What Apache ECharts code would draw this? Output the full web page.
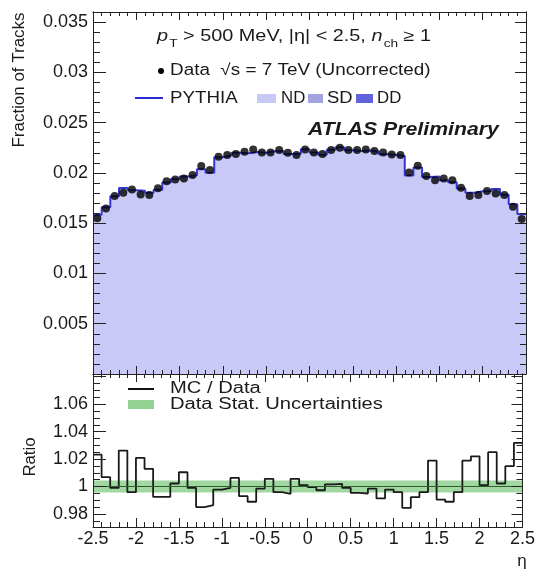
<!DOCTYPE html>
<html><head><meta charset="utf-8">
<script src="https://cdn.jsdelivr.net/npm/echarts@6/dist/echarts.min.js"></script>
<style>html,body{margin:0;padding:0;background:#fff}#c{width:538px;height:572px}</style>
</head><body><div id="c"></div>
<script>
// ---- binning ----
const etaMin = -2.5, etaMax = 2.5, nBins = 50;
// ---- values ----
const dataValues = [0.01548, 0.01647, 0.01769, 0.01802, 0.01836, 0.01786, 0.01779, 0.01846, 0.01918, 0.01935,
  0.01945, 0.01978, 0.02068, 0.02028, 0.02160, 0.02177, 0.02187, 0.02210, 0.02233, 0.02204,
  0.02204, 0.02227, 0.02200, 0.02177, 0.02233, 0.02204, 0.02187, 0.02227, 0.02250, 0.02227,
  0.02227, 0.02233, 0.02217, 0.02204, 0.02184, 0.02177, 0.02005, 0.02070, 0.01968, 0.01928,
  0.01945, 0.01928, 0.01852, 0.01769, 0.01779, 0.01819, 0.01796, 0.01779, 0.01663, 0.01541];
const mcValues = [0.015841, 0.016582, 0.017672, 0.018492, 0.018285, 0.018233, 0.018019, 0.018322, 0.019036, 0.019393,
  0.019652, 0.019760, 0.020370, 0.020004, 0.021552, 0.021748, 0.022008, 0.021945, 0.022082, 0.022007,
  0.022163, 0.022179, 0.021883, 0.021892, 0.022352, 0.022029, 0.021811, 0.022303, 0.022545, 0.022248,
  0.022168, 0.022216, 0.022137, 0.021848, 0.021792, 0.021681, 0.019739, 0.020539, 0.019599, 0.019644,
  0.019265, 0.019066, 0.018444, 0.018024, 0.018181, 0.018208, 0.018409, 0.017829, 0.016876, 0.015900];
const ratioValues = [1.0233, 1.0068, 0.9990, 1.0262, 0.9959, 1.0209, 1.0129, 0.9925, 0.9925, 1.0022,
  1.0104, 0.9990, 0.9850, 0.9864, 0.9978, 0.9990, 1.0063, 0.9930, 0.9889, 0.9985,
  1.0056, 0.9959, 0.9947, 1.0056, 1.0010, 0.9995, 0.9973, 1.0015, 1.0020, 0.9990,
  0.9954, 0.9949, 0.9985, 0.9913, 0.9978, 0.9959, 0.9845, 0.9922, 0.9959, 1.0189,
  0.9905, 0.9889, 0.9959, 1.0189, 1.0220, 1.0010, 1.0250, 1.0022, 1.0148, 1.0318];
const statBandLow = 0.9956, statBandHigh = 1.0044;
// ---- ticks ----
const topMajorTicks = [0, 0.005, 0.01, 0.015, 0.02, 0.025, 0.03, 0.035];
const topTickLabels = ['', '0.005', '0.01', '0.015', '0.02', '0.025', '0.03', '0.035'];
const topMinorTicks = [0.001, 0.002, 0.003, 0.004, 0.006, 0.007, 0.008, 0.009, 0.011, 0.012, 0.013, 0.014,
  0.016, 0.017, 0.018, 0.019, 0.021, 0.022, 0.023, 0.024, 0.026, 0.027, 0.028, 0.029,
  0.031, 0.032, 0.033, 0.034, 0.036];
const ratioMajorTicks = [0.98, 1.0, 1.02, 1.04, 1.06, 1.08];
const ratioTickLabels = ['0.98', '1', '1.02', '1.04', '1.06', ''];
const ratioMinorTicks = [0.975, 0.985, 0.99, 0.995, 1.005, 1.01, 1.015, 1.025, 1.03, 1.035,
  1.045, 1.05, 1.055, 1.065, 1.07, 1.075];
const xTickLabels = ['-2.5', '-2', '-1.5', '-1', '-0.5', '0', '0.5', '1', '1.5', '2', '2.5'];

const FONT = '"Liberation Sans", Arial, Helvetica, sans-serif';
const edges = [];
for (let i = 0; i <= nBins; i++) edges.push(+(etaMin + i * (etaMax - etaMin) / nBins).toFixed(3));
const mcStep = mcValues.map((v, i) => [edges[i], v]).concat([[edges[nBins], mcValues[nBins - 1]]]);
const ratioStep = ratioValues.map((v, i) => [edges[i], v]).concat([[edges[nBins], ratioValues[nBins - 1]]]);
const dataPts = dataValues.map((v, i) => [+((edges[i] + edges[i + 1]) / 2).toFixed(3), v]);

const axCol = '#222';
const LBL = 18;
function xAx(grid, pos, showLabel, len) {
  return {
    type: 'value', gridIndex: grid, position: pos, min: etaMin, max: etaMax, interval: 0.5, z: 10,
    axisLine: { show: true, onZero: false, lineStyle: { color: axCol, width: 1 } },
    axisTick: { show: true, inside: true, length: len, lineStyle: { color: axCol } },
    minorTick: { show: true, splitNumber: 5, length: Math.round(len / 2), lineStyle: { color: axCol } },
    splitLine: { show: false }, minorSplitLine: { show: false },
    axisLabel: { show: showLabel, margin: 3, fontSize: LBL, color: '#1a1a1a', fontFamily: FONT,
      formatter: v => xTickLabels[Math.round((v - etaMin) / 0.5)] },
  };
}
function yAx(grid, pos, min, max, ticks, labels, len, showLabel) {
  return {
    type: 'value', gridIndex: grid, position: pos, min: min, max: max, z: 10,
    axisLine: { show: true, onZero: false, lineStyle: { color: axCol, width: 1 } },
    axisTick: { show: true, inside: true, length: len, customValues: ticks, lineStyle: { color: axCol } },
    splitLine: { show: false },
    axisLabel: { show: showLabel, margin: 5, fontSize: LBL, color: '#1a1a1a', fontFamily: FONT,
      customValues: showLabel ? ticks : undefined,
      formatter: v => { const i = ticks.findIndex(t => Math.abs(t - v) < 1e-6); return i >= 0 ? labels[i] : ''; } },
  };
}

const gridTop = { left: 93, top: 12, width: 433, height: 362 };
const gridBot = { left: 93, top: 374, width: 433, height: 153 };

const txt = (t, x, y, size, sx, extra) => Object.assign({ type: 'text', x: x, y: y, silent: true, scaleX: sx,
  style: Object.assign({ text: t, font: size + 'px ' + FONT, fill: '#1a1a1a', textVerticalAlign: 'middle' }, (extra && extra.style) || {}) },
  (extra && extra.el) || {});

const option = {
  animation: false,
  backgroundColor: '#fff',
  grid: [gridTop, gridBot],
  xAxis: [xAx(0, 'bottom', false, 8), xAx(0, 'top', false, 8), xAx(1, 'bottom', true, 9), xAx(1, 'top', false, 8)],
  yAxis: [
    yAx(0, 'left', 0, 0.036, topMajorTicks, topTickLabels, 13, true),
    yAx(0, 'left', 0, 0.036, topMinorTicks, [], 7, false),
    yAx(0, 'right', 0, 0.036, topMajorTicks, topTickLabels, 11, false),
    yAx(0, 'right', 0, 0.036, topMinorTicks, [], 6, false),
    yAx(1, 'left', 0.9705, 1.082, ratioMajorTicks, ratioTickLabels, 13, true),
    yAx(1, 'left', 0.9705, 1.082, ratioMinorTicks, [], 7, false),
    yAx(1, 'right', 0.9705, 1.082, ratioMajorTicks, ratioTickLabels, 11, false),
    yAx(1, 'right', 0.9705, 1.082, ratioMinorTicks, [], 6, false),
  ],
  series: [
    { name: 'PYTHIA', type: 'line', xAxisIndex: 0, yAxisIndex: 0, step: 'end', data: mcStep, showSymbol: false, symbol: 'none',
      lineStyle: { color: '#3636d6', width: 2 }, areaStyle: { color: '#c9c9f8', opacity: 1 }, z: 2 },
    { name: 'Data', type: 'scatter', xAxisIndex: 0, yAxisIndex: 0, data: dataPts, symbol: 'circle', symbolSize: 8,
      itemStyle: { color: '#000' }, z: 5 },
    { name: 'MC / Data', type: 'line', xAxisIndex: 2, yAxisIndex: 4, step: 'end', data: ratioStep, showSymbol: false, symbol: 'none',
      lineStyle: { color: '#1a1a1a', width: 1.8 }, z: 4,
      markArea: { silent: true, itemStyle: { color: 'rgba(110,195,110,0.65)' }, data: [[{ yAxis: statBandLow }, { yAxis: statBandHigh }]] },
      markLine: { silent: true, symbol: ['none', 'none'], label: { show: false }, lineStyle: { color: '#2d5f2d', type: 'solid', width: 1 }, data: [{ yAxis: 1 }] } },
  ],
  graphic: [
    { type: 'text', x: 157, y: 37, silent: true, scaleX: 1.24, style: {
      text: '{it|p}{sub|T}{n| > 500 MeV, |η| < 2.5, }{it|n}{sub|ch}{n| ≥ 1}', textVerticalAlign: 'middle',
      rich: {
        it: { fontStyle: 'italic', fontSize: 16, fontFamily: FONT, fill: '#1a1a1a', lineHeight: 24 },
        n: { fontSize: 16, fontFamily: FONT, fill: '#1a1a1a', lineHeight: 24 },
        sub: { fontSize: 11, fontFamily: FONT, fill: '#1a1a1a', lineHeight: 24, verticalAlign: 'bottom', padding: [0, 0, 0, 1] },
      } } },
    { type: 'circle', silent: true, shape: { cx: 161, cy: 71, r: 3 }, style: { fill: '#000' } },
    txt('Data  √s = 7 TeV (Uncorrected)', 170, 71, 16, 1.18),
    { type: 'line', silent: true, shape: { x1: 135, y1: 98, x2: 163, y2: 98 }, style: { stroke: '#2b2bd6', lineWidth: 2 } },
    txt('PYTHIA', 170, 99, 16, 1.17),
    { type: 'rect', silent: true, shape: { x: 257, y: 94, width: 19, height: 9 }, style: { fill: '#c9c9f8' } },
    txt('ND', 281, 99, 16, 1.05),
    { type: 'rect', silent: true, shape: { x: 308, y: 94, width: 15, height: 9 }, style: { fill: '#a3a3e0' } },
    txt('SD', 327, 99, 16, 1.15),
    { type: 'rect', silent: true, shape: { x: 356, y: 94, width: 17, height: 9 }, style: { fill: '#6262dc' } },
    txt('DD', 377, 99, 16, 1.05),
    txt('ATLAS Preliminary', 308, 130, 18, 1.18, { style: { font: 'italic bold 18px ' + FONT } }),
    { type: 'line', silent: true, shape: { x1: 128, y1: 389, x2: 154, y2: 389 }, style: { stroke: '#111', lineWidth: 2 } },
    txt('MC / Data', 170, 389, 16, 1.26),
    { type: 'rect', silent: true, shape: { x: 128, y: 400, width: 26, height: 9 }, style: { fill: 'rgba(110,195,110,0.75)' } },
    txt('Data Stat. Uncertainties', 170, 405, 16, 1.26),
    txt('Fraction of Tracks', 20, 80, 16, 1.06, { style: { textAlign: 'center' }, el: { rotation: Math.PI / 2 } }),
    txt('Ratio', 31, 457, 16, 1.05, { style: { textAlign: 'center' }, el: { rotation: Math.PI / 2 } }),
    txt('η', 522, 561, 17, 1, { style: { textAlign: 'center' } }),
  ],
};
const chart = echarts.init(document.getElementById('c'), null, { renderer: 'canvas' });
chart.setOption(option);
</script>
</body></html>
